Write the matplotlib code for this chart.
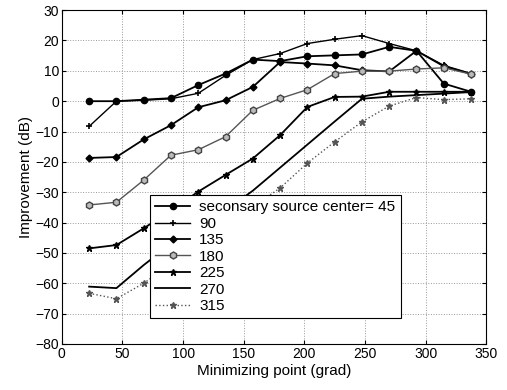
import matplotlib
matplotlib.use('Agg')
import matplotlib.pyplot as plt

plt.rcParams['font.family'] = ['Liberation Sans', 'DejaVu Sans']

# minimizing point positions (grad)
x = [22.5, 45, 67.5, 90, 112.5, 135, 157.5, 180, 202.5, 225, 247.5, 270, 292.5, 315, 337.5]

s45 = [0, 0, 0.5, 1, 5.3, 9.1, 13.7, 13.2, 14.8, 15.1, 15.4, 17.9, 16.6, 5.8, 3.1]
s90 = [-8.3, 0, 0.3, 0.8, 2.6, 8.5, 13.7, 15.7, 19, 20.4, 21.6, 19, 16.6, 11.8, 9.1]
s135 = [-18.7, -18.4, -12.6, -7.9, -2, 0.3, 4.7, 12.9, 12.4, 11.8, 10.2, 9.8, 16.6, 11.5, 9]
s180 = [-34.2, -33.3, -26, -17.8, -16, -11.7, -3, 0.9, 3.8, 9.1, 9.9, 9.9, 10.6, 11, 8.9]
s225 = [-48.5, -47.4, -41.9, -36, -29.8, -24.3, -18.9, -11.2, -1.9, 1.4, 1.5, 3.1, 3.1, 3.1, 3.1]
s270 = [-61.1, -61.6, -54, -47, -41, -36, -29.5, -21.9, -14.3, -6.7, 0.8, 1.5, 2, 2.5, 3]
s315 = [-63.3, -65.1, -60, -53.7, -47.4, -41, -34.8, -28.6, -20.4, -13.4, -6.8, -1.6, 1.2, 0.5, 0.8]

labels = ['seconsary source center= 45', '90', '135', '180', '225', '270', '315']

fig = plt.figure(figsize=(5.07, 3.9), dpi=100)
ax = fig.add_axes([0.122, 0.118, 0.837, 0.856])

ax.plot(x, s45, '-o', color='black', lw=1.3, ms=4.5, label=labels[0])
ax.plot(x, s90, '-+', color='black', lw=1.0, ms=5, mew=1.2, label=labels[1])
ax.plot(x, s135, '-D', color='black', lw=1.3, ms=3.5, label=labels[2])
ax.plot(x, s180, '-h', color='#555555', lw=1.0, ms=5, mfc='#bbbbbb', mec='#444444', label=labels[3])
ax.plot(x, s225, '-*', color='black', lw=1.3, ms=5, label=labels[4])
ax.plot(x, s270, '-', color='black', lw=1.3, label=labels[5])
ax.plot(x, s315, ':*', color='#555555', lw=1.0, ms=5, label=labels[6])

ax.set_xlim(0, 350)
ax.set_ylim(-80, 30)
ax.set_xticks(range(0, 351, 50))
ax.set_yticks(range(-80, 31, 10))
ax.tick_params(direction='in', length=3, labelsize=10, pad=2, top=True, right=True)
ax.grid(True, linestyle=':', color='#999999', lw=0.7)

ax.set_xlabel('Minimizing point (grad)', fontsize=11, labelpad=2)
ax.set_ylabel('Improvement (dB)', fontsize=11, labelpad=2)

leg = ax.legend(loc='upper left', bbox_to_anchor=(0.207, 0.446), fontsize=11,
                frameon=True, fancybox=False, edgecolor='black', framealpha=1,
                borderpad=0.35, labelspacing=0.16, handlelength=2.3, handletextpad=0.6,
                borderaxespad=0)
leg.get_frame().set_linewidth(0.8)

fig.savefig('out.png', dpi=100)
